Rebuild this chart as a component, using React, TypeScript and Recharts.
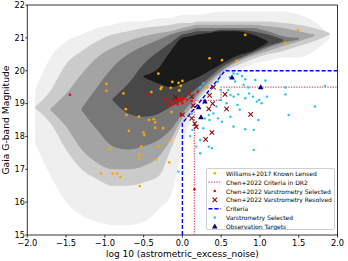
import { ComposedChart, Area, Scatter, Line, XAxis, YAxis, ReferenceArea } from 'recharts'

// sample positions along log10(astrometric_excess_noise) for the density bands
const xSamples = [-1.9, -1.7, -1.5, -1.3, -1.1, -0.9, -0.7, -0.5, -0.3, -0.15, 0, 0.1, 0.2, 0.35, 0.5, 0.7, 0.9, 1.1, 1.3, 1.5, 1.7, 1.9]

type Band = ([number, number] | null)[]

// background 2D histogram, drawn as nested magnitude bands (outer = sparse, inner = dense)
const sparseBand: Band = [
  [17.8, 19.4], [16.8, 20.4], [16.0, 20.9], [15.6, 21.1], [15.4, 21.3], [15.3, 21.4], [15.3, 21.5], [15.4, 21.5],
  [15.8, 21.6], [16.2, 21.6], [17.6, 21.7], [18.5, 21.7], [18.9, 21.7], [19.3, 21.75], [19.7, 21.8], [20.0, 21.8],
  [20.2, 21.8], [20.3, 21.8], [20.4, 21.8], [20.4, 21.7], [20.6, 21.5], [21.0, 21.1],
]
const lightBand: Band = [
  [18.85, 18.9], [18.4, 19.4], [17.6, 20.2], [17.0, 20.6], [16.7, 20.9], [16.5, 21.1], [16.5, 21.2], [16.6, 21.3],
  [16.8, 21.35], [17.6, 21.4], [18.4, 21.45], [18.7, 21.45], [19.1, 21.5], [19.5, 21.5], [19.9, 21.5], [20.15, 21.5],
  [20.35, 21.5], [20.5, 21.5], [20.6, 21.45], [20.75, 21.4], [20.9, 21.3], [21.1, 21.15],
]
const midBand: Band = [
  null, [18.8, 18.85], [18.3, 19.3], [17.6, 19.9], [17.2, 20.4], [17.0, 20.7], [17.0, 20.9], [17.1, 21.05],
  [17.4, 21.15], [17.9, 21.2], [18.55, 21.3], [18.85, 21.35], [19.2, 21.4], [19.6, 21.4], [19.95, 21.4], [20.25, 21.4],
  [20.45, 21.4], [20.6, 21.35], [20.75, 21.3], [20.9, 21.2], [21.05, 21.1], null,
]
const darkBand: Band = [
  null, null, null, [18.8, 18.85], [18.2, 19.5], [17.7, 20.1], [17.6, 20.5], [17.7, 20.75],
  [17.9, 20.95], [18.2, 21.1], [18.7, 21.2], [19.0, 21.25], [19.3, 21.3], [19.7, 21.3], [20.0, 21.3], [20.3, 21.3],
  [20.5, 21.3], [20.7, 21.2], [20.85, 21.05], [20.95, 21.0], null, null,
]
const darkerBand: Band = [
  null, null, null, null, null, [19.1, 19.15], [18.7, 19.6], [18.6, 20.2],
  [18.7, 20.6], [18.9, 20.85], [19.1, 21.1], [19.3, 21.15], [19.5, 21.2], [19.8, 21.2], [20.1, 21.25], [20.35, 21.25],
  [20.55, 21.2], [20.75, 21.1], [20.9, 20.95], null, null, null,
]
const coreBand: Band = [
  null, null, null, null, null, null, null, [19.8, 19.85],
  [19.6, 20.1], [19.5, 20.6], [19.6, 21.0], [19.7, 21.05], [19.8, 21.1], [20.0, 21.15], [20.2, 21.2], [20.45, 21.2],
  [20.6, 21.1], [20.85, 20.9], null, null, null, null,
]

const williamsLensed: [number, number][] = [
  [1.49, 21.24], [0.81, 21.09], [1.33, 20.85], [0.35, 20.38], [0.51, 20.32], [0.70, 20.30], [-0.31, 19.91],
  [-0.98, 19.60], [-0.98, 19.39], [0.0, 19.69], [-0.13, 19.66], [-0.05, 19.63], [-0.15, 19.48], [-0.27, 19.49],
  [-0.28, 19.44], [-0.02, 19.54], [-0.04, 19.40], [-0.40, 19.35], [-0.76, 19.31], [0.32, 19.49], [-0.73, 18.83],
  [-0.72, 18.65], [-0.56, 18.60], [-0.43, 18.50], [-0.37, 18.52], [-0.35, 18.43], [-0.35, 18.26], [-0.25, 18.25],
  [-0.69, 18.17], [-0.50, 18.12], [-0.49, 18.04], [-0.16, 17.89], [-0.93, 17.62], [-0.30, 17.69], [-0.53, 17.70],
  [-0.55, 17.45], [-0.56, 17.32], [-0.34, 17.30], [-0.17, 17.21], [-1.05, 16.87], [-0.90, 16.87], [-0.84, 16.87],
  [-0.80, 16.77], [-0.55, 16.49], [-0.14, 18.74],
]
const chenSelected: [number, number][] = [
  [-1.45, 19.27], [-0.45, 19.25], [-0.22, 19.13], [-0.19, 18.93], [-0.15, 19.06], [-0.12, 18.99], [-0.09, 19.07],
  [-0.05, 19.11], [-0.03, 19.15], [-0.01, 19.08], [0.01, 19.13], [0.03, 19.17], [0.06, 19.11], [0.0, 19.01],
  [-0.06, 18.98], [0.09, 19.33], [0.20, 19.36], [0.12, 19.08], [-0.02, 18.65], [0.155, 16.39],
]
const chenResolved: [number, number][] = [
  [-0.09, 19.19], [0.12, 19.21], [0.0, 18.66], [0.14, 18.94], [0.12, 18.55], [0.16, 18.39], [0.18, 18.29],
  [0.35, 19.25], [0.40, 19.50], [0.39, 19.0], [0.34, 18.84], [0.55, 19.28], [0.57, 18.84], [0.38, 18.12],
  [0.30, 17.91], [0.88, 18.67],
]
const varSelected: [number, number][] = [
  [0.71, 19.90], [0.81, 19.74], [0.94, 19.72], [1.07, 19.70], [0.68, 19.67], [0.61, 19.80], [0.46, 19.67],
  [0.49, 19.41], [0.59, 19.41], [0.62, 19.26], [0.66, 19.21], [0.72, 19.28], [0.81, 19.16], [0.86, 19.31],
  [0.91, 19.21], [0.96, 19.06], [0.99, 19.11], [1.09, 19.21], [1.33, 19.49], [1.33, 19.28], [1.84, 19.54],
  [1.71, 18.91], [1.37, 18.65], [0.98, 18.50], [0.66, 18.30], [0.81, 18.22], [0.51, 18.45], [0.46, 18.55],
  [0.40, 18.70], [0.29, 18.55], [0.34, 18.65], [0.35, 18.50], [0.27, 18.25], [0.10, 18.01], [0.23, 17.89],
  [0.34, 17.69], [0.38, 17.64], [0.18, 17.69], [0.23, 17.49], [0.92, 18.20], [0.49, 19.11], [0.44, 18.91],
  [0.57, 19.01], [0.71, 18.96], [0.74, 18.81], [0.62, 18.60], [0.23, 19.49], [0.27, 19.62], [0.49, 19.87],
  [0.66, 19.92], [0.77, 19.84], [0.85, 19.49], [-0.05, 16.93], [0.12, 18.70], [0.92, 17.59], [1.02, 19.01],
  [0.79, 19.57], [0.13, 18.20],
]
const observationTargets: [number, number][] = [
  [0.64, 19.79], [1.01, 19.50], [0.29, 19.06], [0.21, 18.89], [0.24, 18.58],
]

const criteria: [number, number][] = [[0, 15], [0, 18.4], [0.55, 20], [2, 20]]
const chenCriteria: [number, number][] = [[0.155, 15], [0.155, 19.1], [0.5, 19.1], [0.5, 19.5], [2, 19.5]]

const xTicks = [-2, -1.5, -1, -0.5, 0, 0.5, 1, 1.5, 2]
const yTicks = [15, 16, 17, 18, 19, 20, 21, 22]

const FONT = 'DejaVu Sans, sans-serif'
const ORANGE = '#ffa500'
const RED = '#ff0000'
const DARKRED = '#8b0a0a'
const CYAN = '#22c3f3'
const NAVY = '#00008b'
const BLUE = '#0000ff'
const PINK = '#e6506e'

const toPts = (arr: [number, number][]) => arr.map(([x, y]) => ({ x, y }))

const histData = xSamples.map((x, i) => ({
  x,
  sparse: sparseBand[i],
  light: lightBand[i],
  mid: midBand[i],
  dark: darkBand[i],
  darker: darkerBand[i],
  core: coreBand[i],
}))

const bands = [
  { key: 'sparse', color: '#efefef' },
  { key: 'light', color: '#cbcbcb' },
  { key: 'mid', color: '#a4a4a4' },
  { key: 'dark', color: '#787878' },
  { key: 'darker', color: '#484848' },
  { key: 'core', color: '#1a1a1a' },
]

const dotShape = (r: number, fill: string) => (p: any) => <circle cx={p.cx} cy={p.cy} r={r} fill={fill} />
const crossShape = (p: any) => (
  <g stroke={DARKRED} strokeWidth={1.1}>
    <line x1={p.cx - 2.2} y1={p.cy - 2.2} x2={p.cx + 2.2} y2={p.cy + 2.2} />
    <line x1={p.cx - 2.2} y1={p.cy + 2.2} x2={p.cx + 2.2} y2={p.cy - 2.2} />
  </g>
)
const triShape = (p: any) => (
  <path d={`M${p.cx},${p.cy - 3} L${p.cx + 2.8},${p.cy + 2} L${p.cx - 2.8},${p.cy + 2} Z`} fill={NAVY} />
)

const fmt = (v: number) => v.toFixed(1).replace('-', '\u2212')

function LegendBox() {
  const rows = [
    { label: 'Williams+2017 Known Lensed', kind: 'dot', color: ORANGE },
    { label: 'Chen+2022 Criteria in DR2', kind: 'dotted', color: PINK },
    { label: 'Chen+2022 Varstrometry Selected', kind: 'dot', color: RED },
    { label: 'Chen+2022 Varstrometry Resolved', kind: 'cross', color: DARKRED },
    { label: 'Criteria', kind: 'dashed', color: BLUE },
    { label: 'Varstrometry Selected', kind: 'dot', color: CYAN },
    { label: 'Observation Targets', kind: 'tri', color: NAVY },
  ]
  return (
    <div
      style={{
        position: 'absolute', left: 205.5, top: 167.5, width: 129, height: 62,
        border: '1px solid #d0d0d0', borderRadius: 2, background: 'rgba(255,255,255,0.85)', boxSizing: 'border-box',
      }}
    >
      <svg width={129} height={62} style={{ position: 'absolute', left: -1, top: -1 }}>
        {rows.map((r, i) => {
          const cy = 5.3 + i * 8.85
          return (
            <g key={r.label}>
              {r.kind === 'dot' && <circle cx={8.8} cy={cy} r={1.3} fill={r.color} />}
              {r.kind === 'cross' && (
                <g stroke={r.color} strokeWidth={1.1}>
                  <line x1={6.6} y1={cy - 2.2} x2={11} y2={cy + 2.2} />
                  <line x1={6.6} y1={cy + 2.2} x2={11} y2={cy - 2.2} />
                </g>
              )}
              {r.kind === 'tri' && <path d={`M8.8,${cy - 3} L11.6,${cy + 2} L6,${cy + 2} Z`} fill={r.color} />}
              {r.kind === 'dotted' && <line x1={2.5} x2={15} y1={cy} y2={cy} stroke={r.color} strokeWidth={1.3} strokeDasharray="1.3 1.3" />}
              {r.kind === 'dashed' && <line x1={2.5} x2={15} y1={cy} y2={cy} stroke={r.color} strokeWidth={1.4} strokeDasharray="4 2" />}
              <text x={20} y={cy} dominantBaseline="central" fontSize={6} fontFamily={FONT} fill="#000">{r.label}</text>
            </g>
          )
        })}
      </svg>
    </div>
  )
}

export default function App() {
  return (
    <div style={{ position: 'absolute', left: 0, top: 0, width: 348, height: 261, background: '#fff' }}>
      <ComposedChart width={348} height={261} data={histData} margin={{ top: 5, right: 10.5, bottom: 0, left: 0 }}>
        <XAxis
          type="number"
          dataKey="x"
          domain={[-2, 2]}
          ticks={xTicks}
          tickFormatter={fmt}
          allowDataOverflow
          height={26}
          axisLine={false}
          tickSize={2.5}
          tickMargin={3}
          tickLine={{ stroke: '#000', strokeWidth: 0.8 }}
          tick={{ fontSize: 8.3, fontFamily: FONT, fill: '#000' }}
          label={{
            content: () => (
              <text x={182.4} y={256.8} textAnchor="middle" fontSize={9} fontFamily={FONT} fill="#000">
                log 10 (astrometric_excess_noise)
              </text>
            ),
          }}
        />
        <YAxis
          type="number"
          domain={[15, 22]}
          ticks={yTicks}
          allowDataOverflow
          width={27.3}
          axisLine={false}
          tickSize={2}
          tickMargin={0.5}
          tickLine={{ stroke: '#000', strokeWidth: 0.8 }}
          tick={{ fontSize: 8.1, fontFamily: FONT, fill: '#000' }}
          label={{
            content: () => (
              <text x={5.5} y={120} transform="rotate(-90, 5.5, 120)" textAnchor="middle" dominantBaseline="central"
                fontSize={9.2} fontFamily={FONT} fill="#000">
                Gaia G-band Magnitude
              </text>
            ),
          }}
        />
        {bands.map(b => (
          <Area key={b.key} dataKey={b.key} type="monotone" fill={b.color} fillOpacity={1} stroke="none"
            dot={false} activeDot={false} isAnimationActive={false} />
        ))}
        <Scatter data={toPts(williamsLensed)} dataKey="y" shape={dotShape(1.35, ORANGE)} isAnimationActive={false} />
        <Line data={toPts(chenCriteria)} dataKey="y" type="linear" stroke={PINK} strokeWidth={1.3}
          strokeDasharray="1.3 1.3" dot={false} activeDot={false} isAnimationActive={false} />
        <Scatter data={toPts(chenSelected)} dataKey="y" shape={dotShape(1.3, RED)} isAnimationActive={false} />
        <Scatter data={toPts(chenResolved)} dataKey="y" shape={crossShape} isAnimationActive={false} />
        <Line data={toPts(criteria)} dataKey="y" type="linear" stroke={BLUE} strokeWidth={1.4}
          strokeDasharray="4 2" dot={false} activeDot={false} isAnimationActive={false} />
        <Scatter data={toPts(varSelected)} dataKey="y" shape={dotShape(1.2, CYAN)} isAnimationActive={false} />
        <Scatter data={toPts(observationTargets)} dataKey="y" shape={triShape} isAnimationActive={false} />
        <ReferenceArea x1={-2} x2={2} y1={15} y2={22} fill="none" stroke="#000" strokeWidth={0.8} ifOverflow="visible" />
      </ComposedChart>
      <LegendBox />
    </div>
  )
}
